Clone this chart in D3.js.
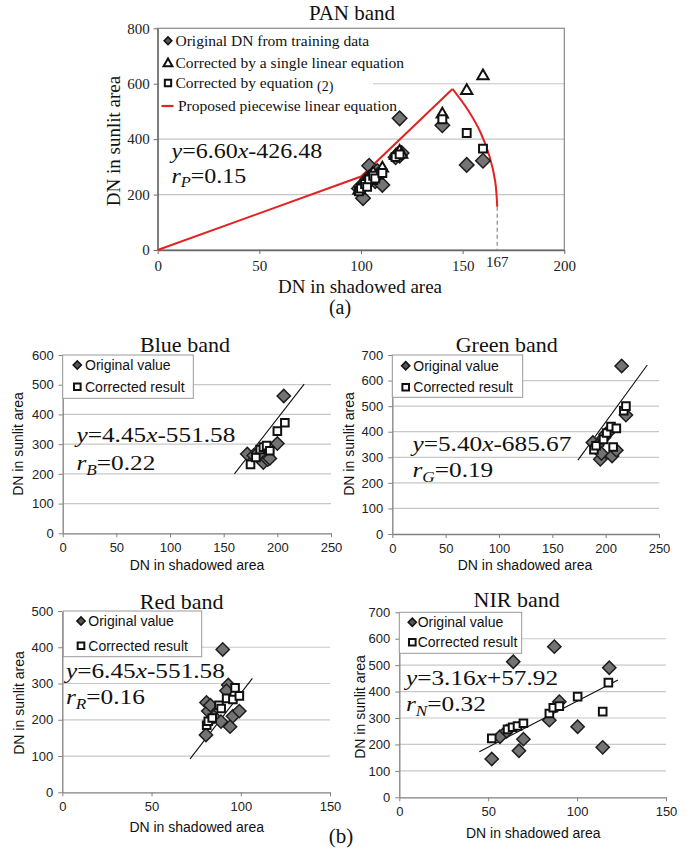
<!DOCTYPE html>
<html><head><meta charset="utf-8">
<script src="https://cdn.jsdelivr.net/npm/d3@7"></script>
<style>body{margin:0;background:#fff}svg{display:block}</style>
</head><body><svg id="c" width="693" height="850"></svg>
<script>
// ---------- DATA ----------
// PAN band
const panOrigX = [99, 100, 101, 102, 103, 104, 105, 106, 107, 108, 110.5, 117, 118, 119, 120, 119, 140, 152, 160];
const panOrigY = [222, 230, 187, 240, 255, 304, 262, 275, 248, 285, 235, 335, 345, 340, 350, 475, 450, 307, 322];
const panLinX = [99, 101, 102, 104, 105, 106, 108, 110.5, 117, 119, 120, 140, 152, 160];
const panLinY = [215, 232, 245, 262, 250, 278, 270, 295, 340, 355, 345, 490, 575, 628];
const panEqX = [99, 100, 102, 103, 104, 106, 107, 110.5, 117, 119, 140, 152, 160];
const panEqY = [212, 222, 238, 228, 255, 268, 258, 278, 335, 345, 472, 422, 366];
const panPieceX = [0, 100, 145];
const panPieceY = [0, 265, 581];
const panArcX = [145, 152.6, 158.8, 163.2, 166, 167];
const panArcY = [581, 505, 424, 338, 248, 156];
const panCut = 167;
const panXTicks = [0, 50, 100, 150, 200];
const panYTicks = [0, 200, 400, 600, 800];
const panLegend = ["Original DN from training data", "Corrected by a single linear equation", "Corrected by equation ", "Proposed piecewise linear equation"];

// Blue band
const blueOrigX = [172, 178, 182, 185, 187, 189, 191, 193, 200, 206];
const blueOrigY = [267, 262, 270, 258, 238, 285, 248, 252, 302, 462];
const blueCorrX = [175, 180, 184, 187, 190, 193, 200, 207];
const blueCorrY = [232, 255, 282, 290, 295, 278, 344, 372];
const blueLineX = [160, 225];
const blueLineY = [200, 502];
// Green band
const greenOrigX = [188, 192, 195, 196, 198, 200, 203, 206, 210, 215, 219];
const greenOrigY = [358, 345, 292, 315, 375, 390, 400, 305, 328, 657, 465];
const greenCorrX = [189, 191, 198, 201, 205, 207, 210, 217, 219];
const greenCorrY = [330, 345, 370, 395, 420, 340, 413, 482, 500];
const greenLineX = [174, 239];
const greenLineY = [289, 661];
// Red band
const redOrigX = [80.5, 80.8, 81.8, 83, 85, 88.9, 89.9, 93, 94, 95.6, 99.2, 92];
const redOrigY = [158, 248, 224, 240, 208, 195, 394, 296, 181, 210, 224, 280];
const redCorrX = [80.9, 81.8, 84, 87.8, 89, 92.1, 95.6, 96.8, 99.2];
const redCorrY = [185, 196, 205, 240, 231, 259, 256, 288, 266];
const redLineX = [71.6, 106.5];
const redLineY = [92, 314];
// NIR band
const nirOrigX = [52, 56.6, 60.4, 64.1, 67.3, 69.8, 84.4, 87.2, 90, 100.3, 114.4, 118.1];
const nirOrigY = [145, 229, 250, 513, 176, 220, 292, 570, 362, 267, 189, 490];
const nirCorrX = [52, 60.9, 63.7, 66.5, 69.8, 84.4, 86.6, 90, 100.3, 114.4, 117.6];
const nirCorrY = [223, 257, 265, 270, 280, 317, 339, 345, 381, 324, 434];
const nirLineX = [45, 123];
const nirLineY = [172, 444];

const smallLegend = ["Original value", "Corrected result"];

// ---------- DRAWING ----------
const svg = d3.select('#c');
const SERIF = "'Liberation Serif','Times New Roman',serif";
const SANS = "'Liberation Sans',Arial,sans-serif";
const zip = (a, b) => a.map((v, i) => [v, b[i]]);

function diamondPath(s) { return d3.symbol().type(d3.symbolSquare).size(s)(); }
function squarePath(s) { return d3.symbol().type(d3.symbolSquare).size(s)(); }
function triPath(s) { return d3.symbol().type(d3.symbolTriangle).size(s)(); }

function equation(g, x, y, a, b, sub, r, fs, sx) {
  const t1 = g.append('text').attr('transform', `translate(${x},${y}) scale(${sx},1)`)
    .attr('font-family', SERIF).attr('font-size', fs).attr('fill', '#111');
  t1.append('tspan').attr('font-style', 'italic').text('y');
  t1.append('tspan').text('=' + a);
  t1.append('tspan').attr('font-style', 'italic').text('x');
  t1.append('tspan').text(b);
  return function (y2) {
    const t2 = g.append('text').attr('transform', `translate(${x},${y2}) scale(${sx},1)`)
      .attr('font-family', SERIF).attr('font-size', fs).attr('fill', '#111');
    t2.append('tspan').attr('font-style', 'italic').text('r');
    t2.append('tspan').attr('font-style', 'italic').attr('font-size', fs * 0.68).attr('dy', fs * 0.22).text(sub);
    t2.append('tspan').attr('dy', -fs * 0.22).text('=' + r);
  };
}

// ===== PAN panel =====
(function () {
  const x = d3.scaleLinear().domain([0, 200]).range([157.7, 564.3]);
  const y = d3.scaleLinear().domain([0, 800]).range([250, 28.3]);
  const g = svg.append('g');
  // grid
  g.selectAll('.gl').data(panYTicks.filter(v => v > 0 && v < 800)).enter().append('line')
    .attr('x1', x(0)).attr('x2', x(200)).attr('y1', d => y(d)).attr('y2', d => y(d))
    .attr('stroke', '#c4c4c4').attr('stroke-width', 1.2);
  // border
  g.append('rect').attr('x', x(0)).attr('y', y(800)).attr('width', x(200) - x(0)).attr('height', y(0) - y(800))
    .attr('fill', 'none').attr('stroke', '#8a8a8a').attr('stroke-width', 1.2);
  // legend background
  g.append('rect').attr('x', x(0) + 1.5).attr('y', y(800) + 2).attr('width', 373 - x(0) - 1.5).attr('height', 66)
    .attr('fill', '#fff');
  // axes ticks
  const ya = d3.axisLeft(y).tickValues(panYTicks).tickSize(4).tickSizeOuter(0).tickPadding(4);
  const ay = g.append('g').attr('transform', `translate(${x(0)},0)`).call(ya);
  const xa = d3.axisBottom(x).tickValues(panXTicks).tickSize(4).tickSizeOuter(0).tickPadding(6);
  const ax = g.append('g').attr('transform', `translate(0,${y(0)})`).call(xa);
  [ay, ax].forEach(a => {
    a.select('.domain').attr('stroke', '#6a6a6a').attr('stroke-width', 1.3);
    a.selectAll('line').attr('stroke', '#6a6a6a');
    a.selectAll('text').attr('font-family', SERIF).attr('font-size', 15).attr('fill', '#222');
  });
  g.append('text').attr('x', x(panCut)).attr('y', y(0) + 17).attr('text-anchor', 'middle')
    .attr('font-family', SERIF).attr('font-size', 15).attr('fill', '#222').text(String(panCut));
  // dashed cut line
  g.append('line').attr('x1', x(panCut)).attr('x2', x(panCut)).attr('y1', y(panArcY[panArcY.length - 1])).attr('y2', y(0))
    .attr('stroke', '#888').attr('stroke-width', 1.2).attr('stroke-dasharray', '4,3');
  // red piecewise line
  const ln = d3.line().x(d => x(d[0])).y(d => y(d[1]));
  g.append('path').attr('d', ln(zip(panPieceX, panPieceY))).attr('fill', 'none').attr('stroke', '#e32222').attr('stroke-width', 2);
  g.append('path').attr('d', ln.curve(d3.curveCatmullRom)(zip(panArcX, panArcY))).attr('fill', 'none').attr('stroke', '#e32222').attr('stroke-width', 2);
  // points
  g.selectAll('.pd').data(zip(panOrigX, panOrigY)).enter().append('path')
    .attr('d', diamondPath(105)).attr('transform', d => `translate(${x(d[0])},${y(d[1])}) rotate(45)`)
    .attr('fill', '#747474').attr('stroke', '#1e1e1e').attr('stroke-width', 1.5);
  g.selectAll('.pt').data(zip(panLinX, panLinY)).enter().append('path')
    .attr('d', triPath(55)).attr('transform', d => `translate(${x(d[0])},${y(d[1])})`)
    .attr('fill', '#fff').attr('stroke', '#111').attr('stroke-width', 2);
  g.selectAll('.ps').data(zip(panEqX, panEqY)).enter().append('path')
    .attr('d', squarePath(62)).attr('transform', d => `translate(${x(d[0])},${y(d[1])})`)
    .attr('fill', '#fff').attr('stroke', '#111').attr('stroke-width', 2);
  // legend
  const lx = 168, ly = [40.7, 62.7, 83, 106];
  g.append('path').attr('d', diamondPath(30)).attr('transform', `translate(${lx},${ly[0]}) rotate(45)`)
    .attr('fill', '#555').attr('stroke', '#111').attr('stroke-width', 1.5);
  g.append('path').attr('d', triPath(34)).attr('transform', `translate(${lx},${ly[1] + 1})`)
    .attr('fill', '#fff').attr('stroke', '#111').attr('stroke-width', 2);
  g.append('path').attr('d', squarePath(40)).attr('transform', `translate(${lx},${ly[2]})`)
    .attr('fill', '#fff').attr('stroke', '#111').attr('stroke-width', 2);
  g.append('line').attr('x1', 161.5).attr('x2', 173.5).attr('y1', ly[3]).attr('y2', ly[3])
    .attr('stroke', '#e32222').attr('stroke-width', 2.2);
  panLegend.forEach((t, i) => {
    const tx = g.append('text').attr('x', i === 3 ? 178 : 175.5).attr('y', ly[i] + 5)
      .attr('font-family', SERIF).attr('font-size', 15.5).attr('fill', '#111').text(t);
    if (i === 2) tx.append('tspan').attr('font-size', 14).attr('dy', 2.5).text('(2)');
  });
  // equation
  const r2 = equation(g, 171.5, 158, '6.60', '-426.48', 'P', '0.15', 20, 1.2);
  r2(183);
  // titles / labels
  g.append('text').attr('x', 352).attr('y', 20).attr('text-anchor', 'middle').attr('font-family', SERIF)
    .attr('font-size', 21).attr('fill', '#111').text('PAN band');
  g.append('text').attr('x', 360).attr('y', 293).attr('text-anchor', 'middle').attr('font-family', SERIF)
    .attr('font-size', 19).attr('fill', '#111').text('DN in shadowed area');
  g.append('text').attr('transform', 'translate(120,141) rotate(-90)').attr('text-anchor', 'middle').attr('font-family', SERIF)
    .attr('font-size', 19).attr('fill', '#111').text('DN in sunlit area');
  g.append('text').attr('x', 340).attr('y', 314).attr('text-anchor', 'middle').attr('font-family', SERIF)
    .attr('font-size', 20).attr('fill', '#111').text('(a)');
})();

// ===== small panels =====
function smallPanel(c) {
  const x = d3.scaleLinear().domain([0, c.xmax]).range(c.xr);
  const y = d3.scaleLinear().domain([0, c.ymax]).range(c.yr);
  const g = svg.append('g');
  const yt = d3.range(0, c.ymax + 1, 100);
  const xt = d3.range(0, c.xmax + 1, 50);
  g.selectAll('.gl').data(yt.filter(v => v > 0 && v < c.ymax)).enter().append('line')
    .attr('x1', x(0)).attr('x2', x(c.xmax)).attr('y1', d => y(d)).attr('y2', d => y(d))
    .attr('stroke', '#c8c8c8').attr('stroke-width', 1.2);
  const ay = g.append('g').attr('transform', `translate(${x(0)},0)`)
    .call(d3.axisLeft(y).tickValues(yt).tickSize(4).tickSizeOuter(0).tickPadding(5));
  const ax = g.append('g').attr('transform', `translate(0,${y(0)})`)
    .call(d3.axisBottom(x).tickValues(xt).tickSize(4).tickSizeOuter(0).tickPadding(5.5));
  [ay, ax].forEach(a => {
    a.select('.domain').attr('stroke', '#808080').attr('stroke-width', 1.3);
    a.selectAll('line').attr('stroke', '#808080');
    a.selectAll('text').attr('font-family', SANS).attr('font-size', 13).attr('fill', '#222');
  });
  // legend box
  const lb = c.legend;
  g.append('rect').attr('x', lb.x0).attr('y', lb.y0).attr('width', lb.x1 - lb.x0).attr('height', lb.y1 - lb.y0)
    .attr('fill', '#fff').attr('stroke', '#999').attr('stroke-width', 1);
  g.append('path').attr('d', diamondPath(34)).attr('transform', `translate(${lb.mx},${lb.my[0]}) rotate(45)`)
    .attr('fill', '#555').attr('stroke', '#111').attr('stroke-width', 1.5);
  g.append('path').attr('d', squarePath(44)).attr('transform', `translate(${lb.mx},${lb.my[1]})`)
    .attr('fill', '#fff').attr('stroke', '#111').attr('stroke-width', 2);
  smallLegend.forEach((t, i) => g.append('text').attr('x', lb.tx).attr('y', lb.my[i] + 5)
    .attr('font-family', SANS).attr('font-size', 14).attr('fill', '#111').text(t));
  // regression line
  g.append('line').attr('x1', x(c.lineX[0])).attr('y1', y(c.lineY[0])).attr('x2', x(c.lineX[1])).attr('y2', y(c.lineY[1]))
    .attr('stroke', '#111').attr('stroke-width', 1.1);
  // points
  g.selectAll('.pd').data(zip(c.ox, c.oy)).enter().append('path')
    .attr('d', diamondPath(88)).attr('transform', d => `translate(${x(d[0])},${y(d[1])}) rotate(45)`)
    .attr('fill', '#737373').attr('stroke', '#1e1e1e').attr('stroke-width', 1.5);
  g.selectAll('.ps').data(zip(c.cx, c.cy)).enter().append('path')
    .attr('d', squarePath(58)).attr('transform', d => `translate(${x(d[0])},${y(d[1])})`)
    .attr('fill', '#fff').attr('stroke', '#111').attr('stroke-width', 2);
  // equation
  const r2 = equation(g, c.eq.x, c.eq.y1, c.eq.a, c.eq.b, c.eq.sub, c.eq.r, 22, 1.15);
  r2(c.eq.y2);
  // labels
  g.append('text').attr('x', c.title.x).attr('y', c.title.y).attr('text-anchor', 'middle').attr('font-family', SERIF)
    .attr('font-size', 22).attr('fill', '#111').text(c.title.t);
  g.append('text').attr('x', c.xl.x).attr('y', c.xl.y).attr('text-anchor', 'middle').attr('font-family', SANS)
    .attr('font-size', 14).attr('fill', '#111').text('DN in shadowed area');
  g.append('text').attr('transform', `translate(${c.yl.x},${c.yl.y}) rotate(-90)`).attr('text-anchor', 'middle')
    .attr('font-family', SANS).attr('font-size', 14).attr('fill', '#111').text('DN in sunlit area');
}

smallPanel({
  xmax: 250, ymax: 600, xr: [62.7, 331], yr: [533.3, 355],
  ox: blueOrigX, oy: blueOrigY, cx: blueCorrX, cy: blueCorrY, lineX: blueLineX, lineY: blueLineY,
  legend: { x0: 62.7, y0: 355, x1: 193.3, y1: 398.3, mx: 77.3, my: [365, 386.7], tx: 85 },
  eq: { x: 76.5, y1: 441.7, y2: 470, a: '4.45', b: '-551.58', sub: 'B', r: '0.22' },
  title: { x: 185, y: 352, t: 'Blue band' }, xl: { x: 197, y: 570 }, yl: { x: 23, y: 444 }
});
smallPanel({
  xmax: 250, ymax: 700, xr: [392.3, 659], yr: [534, 355],
  ox: greenOrigX, oy: greenOrigY, cx: greenCorrX, cy: greenCorrY, lineX: greenLineX, lineY: greenLineY,
  legend: { x0: 392.3, y0: 355, x1: 522.7, y1: 397.3, mx: 405.7, my: [365.7, 387.3], tx: 413.3 },
  eq: { x: 412.5, y1: 450.7, y2: 477, a: '5.40', b: '-685.67', sub: 'G', r: '0.19' },
  title: { x: 506.7, y: 352, t: 'Green band' }, xl: { x: 525, y: 570 }, yl: { x: 354, y: 444 }
});
smallPanel({
  xmax: 150, ymax: 500, xr: [62.3, 330], yr: [792.3, 611],
  ox: redOrigX, oy: redOrigY, cx: redCorrX, cy: redCorrY, lineX: redLineX, lineY: redLineY,
  legend: { x0: 63.3, y0: 611, x1: 201.7, y1: 656.7, mx: 81, my: [621, 645.7], tx: 88.3 },
  eq: { x: 66, y1: 678, y2: 704, a: '6.45', b: '-551.58', sub: 'R', r: '0.16' },
  title: { x: 181.7, y: 608.5, t: 'Red band' }, xl: { x: 196.7, y: 831.5 }, yl: { x: 24, y: 703 }
});
smallPanel({
  xmax: 150, ymax: 700, xr: [399.3, 666], yr: [797.3, 612.3],
  ox: nirOrigX, oy: nirOrigY, cx: nirCorrX, cy: nirCorrY, lineX: nirLineX, lineY: nirLineY,
  legend: { x0: 399.3, y0: 612.3, x1: 521.7, y1: 653.3, mx: 412.3, my: [622.3, 642.3], tx: 417.7 },
  eq: { x: 406, y1: 684.5, y2: 711, a: '3.16', b: '+57.92', sub: 'N', r: '0.32' },
  title: { x: 516.7, y: 607, t: 'NIR band' }, xl: { x: 533.3, y: 838 }, yl: { x: 365, y: 707 }
});
svg.append('text').attr('x', 341).attr('y', 843).attr('text-anchor', 'middle').attr('font-family', SERIF)
  .attr('font-size', 21).attr('fill', '#111').text('(b)');
</script></body></html>
